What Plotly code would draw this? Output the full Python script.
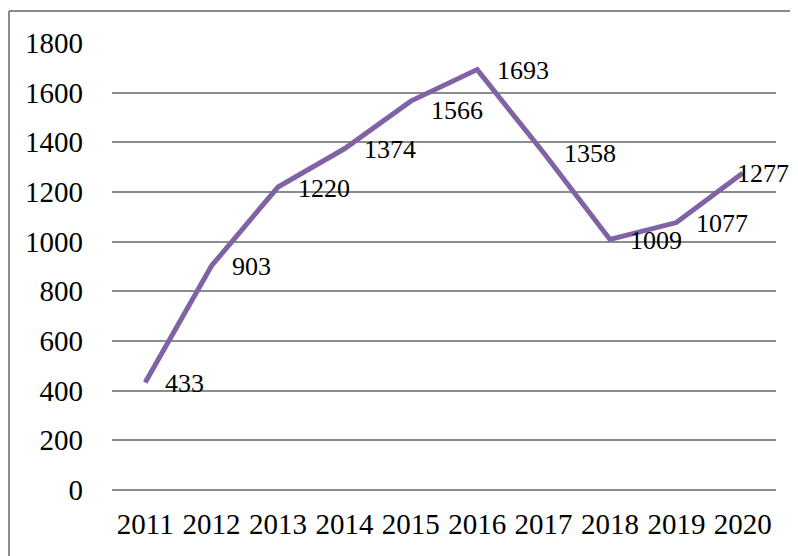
import plotly.graph_objects as go

years = ["2011", "2012", "2013", "2014", "2015", "2016", "2017", "2018", "2019", "2020"]
values = [433, 903, 1220, 1374, 1566, 1693, 1358, 1009, 1077, 1277]
y_ticks = [0, 200, 400, 600, 800, 1000, 1200, 1400, 1600, 1800]

FONT = dict(family="Liberation Serif, Times New Roman, serif", size=29, color="#000000")
LABEL_FONT = dict(family="Liberation Serif, Times New Roman, serif", size=26, color="#000000")
GRID = "#8c8c8c"
LINE = "#7f63a5"

fig = go.Figure()
fig.add_trace(go.Scatter(
    x=years, y=values, mode="lines",
    line=dict(color=LINE, width=5),
    hoverinfo="skip", showlegend=False,
))

# data labels (placed to the right of each point, Excel style)
for i, v in enumerate(values):
    last = i == len(values) - 1
    fig.add_annotation(
        x=i, y=v, text=str(v), showarrow=False,
        xanchor="left", yanchor="middle",
        xshift=-8 if last else 18,
        yshift=-9 if i == 4 else -1,
        font=LABEL_FONT,
    )

fig.update_layout(
    width=790, height=548,
    margin=dict(l=104, r=22, t=35, b=66, autoexpand=False),
    paper_bgcolor="white", plot_bgcolor="white",
    font=FONT,
    xaxis=dict(
        type="category", showgrid=False, zeroline=False, showline=False,
        ticks="", ticklabelstandoff=14, tickfont=FONT,
        range=[-0.5, len(years) - 0.5],
    ),
    yaxis=dict(
        range=[0, 1800], tickvals=y_ticks, showgrid=True, gridcolor=GRID,
        gridwidth=1.5, zeroline=True, zerolinecolor=GRID, zerolinewidth=1.5,
        showline=False, ticks="", ticklabelstandoff=28, tickfont=FONT,
    ),
)

# outer chart border (top and left edges visible)
x_left = -103.0 / 664
y_top = 1 + 32.0 / 447
fig.add_shape(type="line", xref="paper", yref="paper",
              x0=x_left, x1=1.1, y0=y_top, y1=y_top,
              line=dict(color="#8a8a8a", width=2))
fig.add_shape(type="line", xref="paper", yref="paper",
              x0=x_left, x1=x_left, y0=y_top, y1=-0.2,
              line=dict(color="#8a8a8a", width=2))

fig.write_html("out.html")
